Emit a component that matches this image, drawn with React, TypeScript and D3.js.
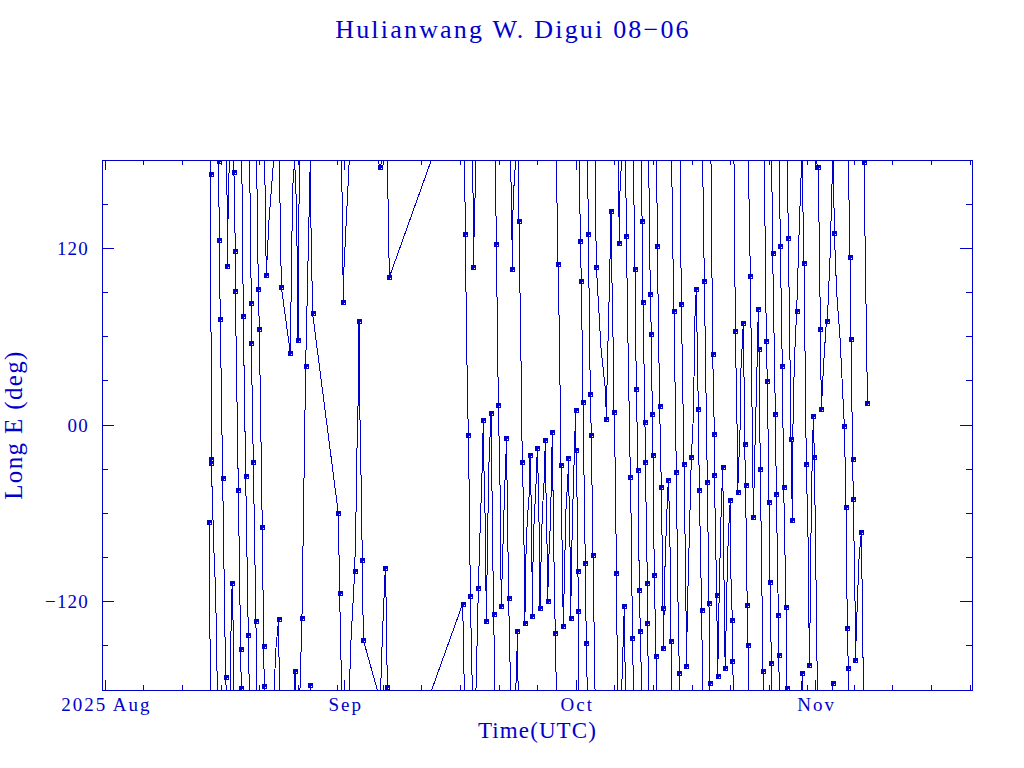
import React from "react";
import * as d3 from "d3";

const TITLE = "Hulianwang W. Digui 08\u221206";
const X_TITLE = "Time(UTC)";
const Y_TITLE = "Long E (deg)";
const COLOR = "#0000cc";

// days since 2025-08-01
const monthDays = [0, 31, 61, 92];
const monthLabels = ["2025 Aug", "Sep", "Oct", "Nov"];
const minorDays = [5, 10, 15, 20, 25, 30, 36, 41, 46, 51, 56, 66, 71, 76, 81, 86, 91, 97, 102, 107, 112];
const yMajor = [-120, 0, 120];
const yLabels = ["\u2212120", "00", "120"];
const yMinor = [-150, -90, -60, -30, 30, 60, 90, 150];

// Each track: [day, longitude, isSample]. Longitude ±180 marks the wrap at the plot edge.
type P = number[];
const tracksEarly: P[][] = [
  [[13.46,-65.9,1],[13.59,-180]],
  [[13.55,180],[13.63,170.2,1],[13.72,-23.3,1],[13.72,-25.9,1],[14.06,-85.6],[14.28,-113.7],[14.5,-180]],
  [[14.67,180],[14.67,179,1],[14.75,125.9,1],[14.88,72,1],[15.19,-35.9,1],[15.57,-171.3,1],[15.66,-180]],
  [[15.7,180],[15.79,139.3],[15.79,108.3,1],[15.88,139.3],[16.05,180]],
  [[16.14,-180],[16.35,-116],[16.44,-107.6,1],[16.57,-144],[16.61,-180]],
  [[16.65,180],[16.65,172,1],[16.83,117.9,1],[16.83,91,1],[17.22,-43.9,1],[17.52,-152,1],[17.6,-178.8,1],[17.65,-180]],
  [[17.6,180],[17.73,158],[17.86,73.7,1],[18.17,-34.5,1],[18.51,-142.5,1],[18.64,-180]],
  [[18.68,180],[18.9,83,1],[18.9,55.9,1],[19.16,-24.9,1],[19.5,-133.1,1],[19.59,-180]],
  [[19.59,180],[19.81,92.6,1],[19.94,65.5,1],[20.32,-69.4,1],[20.5,-150.2,1],[20.58,-177.6,1],[20.63,-180]],
  [[20.63,180],[20.84,102,1],[21.19,139.3],[21.79,180]],
  [[21.84,-180],[22.1,-151.1],[22.44,-131.7,1],[22.53,-180]],
  [[22.53,180],[22.79,93.8,1],[23.95,49.1,1],[24.25,160.3],[24.51,180]],
  [[24.47,-180],[24.56,-167.3,1],[24.58,-180]],
  [[24.51,180],[24.77,146.3],[24.95,58,1],[25.07,146.3],[25.16,180]],
  [[25.2,-180],[25.46,-131.2,1],[25.94,40.2,1],[26.54,180]],
  [[26.54,-180],[26.54,-176.4,1],[26.59,-180]],
  [[26.54,180],[26.54,160.3],[26.84,75.8,1],[30.17,-60,1],[30.34,-114.1,1],[30.6,-180]],
  [[30.6,180],[30.82,83.7,1],[30.9,106.5],[31.34,153.3],[31.59,180]],
  [[31.59,-180],[31.81,-146.5],[32.29,-99.4,1],[32.46,-59.8],[32.63,-3.6],[32.8,26.8],[32.85,70.9,1],[32.89,26.8],[33.06,-17.7],[33.28,-91.7,1],[33.41,-146,1],[35.22,-180]],
  [[35.26,180],[35.57,175,1],[35.83,180]],
  [[35.65,-180],[35.87,-144.1],[36.26,-97,1],[36.34,-113.7],[36.52,-178.3,1],[36.56,-180]],
  [[36.52,180],[36.6,155.6],[36.78,100.4,1],[42.22,180]],
  [[42.26,-180],[46.28,-121.4,1],[46.49,-180]],
];
const tracksMiddle: P[][] = [
  [[46.53,180],[46.62,129.6,1],[46.79,55],[47.01,-6.9,1],[47.14,-50.4],[47.27,-116.3,1],[47.53,-180]],
  [[47.57,180],[47.66,136.9],[47.66,107.6,1],[47.79,136.9],[48,180]],
  [[48,-180],[48.31,-110.9,1],[48.52,-73.9],[48.82,-27],[48.95,3.4,1],[49,-22.3],[49.21,-68],[49.34,-133.1,1],[49.51,-73.9],[49.69,-24.7],[49.95,8.3,1],[50.03,-22.3],[50.16,-83.2],[50.29,-128.4,1],[50.46,-180]],
  [[50.51,180],[50.64,122.9,1],[50.9,13.5,1],[51.11,-38.7],[51.28,-123,1],[51.41,-97.3],[51.67,-50.4],[51.89,-20],[51.93,-8.5,1],[52.06,-50.4],[52.23,-117.7,1],[52.49,-180]],
  [[52.49,180],[52.67,125.2],[52.67,106,1],[52.71,125.2],[52.84,155.6],[53.14,180]],
  [[53.14,-180],[53.27,-167.5],[53.36,-139.9,1],[53.4,-167.5],[53.49,-180]],
  [[53.48,180],[53.57,138.3,1],[53.83,45.6],[54,-25.4,1],[54.13,-48.1],[54.3,-109],[54.33,-134.8,1],[54.48,-87.9],[54.65,-64.5],[54.91,-45.8],[55,-20.2,1],[55.21,-64.5],[55.3,-129.6,1],[55.43,-76.2],[55.77,-41.1],[55.95,-15.3,1],[56.08,-41.1],[56.21,-78.5],[56.29,-124.4,1],[56.38,-102],[56.59,-59.8],[56.85,-36.4],[56.98,-10.2,1],[57.07,-45.8],[57.24,-90.3],[57.28,-119.3,1],[57.46,-87.9],[57.67,-62.2],[57.8,-27],[57.89,-4.8,1],[58.02,-62.2],[58.19,-120.7],[58.28,-141.3,1],[58.41,-180]],
  [[58.41,180],[58.62,109.5,1],[58.8,64.3],[59.01,-27,1],[59.14,-76.2],[59.31,-136.4,1],[59.53,-85.6],[59.66,-57.5],[59.92,-34],[59.96,-22.3,1],[60.18,-83.2],[60.26,-131.2,1],[60.48,-66.8],[60.7,-27],[60.91,10.4,1],[60.96,-16.7,1],[61.13,-59.8],[61.21,-98.9,1],[61.26,-126.1,1],[61.3,-180]],
  [[61.39,180],[61.52,125,1],[61.65,97.6,1],[61.86,15.8,1],[62.16,-93.8,1],[62.29,-148.3,1],[62.42,-180]],
  [[62.47,180],[62.55,129.9,1],[62.68,78.4],[62.81,20.8,1],[62.94,-6.7,1],[63.16,-88.6,1],[63.42,-180]],
  [[63.42,180],[63.59,107.6,1],[64.19,52.6],[64.8,22.2],[64.88,3.9,1],[65.06,47.9],[65.32,101.8],[65.49,145.6,1],[65.58,108.8],[65.75,59.6],[65.88,9,1],[66.09,-41.1],[66.18,-100.3,1],[66.35,-180]],
  [[66.44,180],[66.57,123.3,1],[66.66,160.3],[66.87,180]],
  [[66.87,-180],[67.22,-122.8,1],[67.35,-180]],
  [[67.39,180],[67.48,128.5,1],[67.73,43.2],[68,-35.5,1],[68.17,-85.6],[68.25,-144.8,1],[68.43,-180]],
  [[68.38,180],[68.6,106.2,1],[68.77,24.3,1],[68.99,-30.3,1],[69.16,-112.3,1],[69.29,-139.9,1],[69.46,-180]],
  [[69.46,180],[69.51,138.8,1],[69.64,83.7,1],[69.76,43.2],[69.89,2.2,1],[69.94,-25.2,1],[70.2,-107.1,1],[70.2,-134.8,1],[70.37,-180]],
  [[70.37,180],[70.58,89.1,1],[70.71,62,1],[70.84,7.2,1],[70.93,-20.2,1],[71.1,-102,1],[71.32,-157,1],[71.41,-180]],
  [[71.41,180],[71.49,121.7,1],[71.79,12.6,1],[72.01,-42.2,1],[72.23,-124.4,1],[72.27,-151.6,1],[72.48,-97.3],[72.7,-62.2],[72.92,-37.1,1],[73.05,-59.8],[73.22,-106.7],[73.26,-146.8,1],[73.35,-180]],
  [[73.35,180],[73.48,125.2],[73.65,77.2,1],[73.87,-3.6],[73.95,-31.9,1],[74.13,-109],[74.34,-168.5,1],[74.43,-180]],
  [[74.43,180],[74.6,82.3,1],[74.95,-26.8,1],[75.2,-120.7],[75.25,-163.8,1],[75.42,-118.4],[75.68,-66.8],[75.9,-21.6,1],[76.16,5.8],[76.37,73.7],[76.54,92.6,1],[76.8,10.7,1],[76.93,-43.9,1],[77.23,-125.9,1],[77.36,-180]],
];
const tracksLate: P[][] = [
  [[77.36,180],[77.58,97.8,1],[77.97,-38.7,1],[78.18,-120.7,1],[78.27,-175.3,1],[78.31,-180]],
  [[78.44,180],[78.66,48.4,1],[78.88,-6.2,1],[78.88,-33.8,1],[79.18,-115.6,1],[79.31,-170.6,1],[79.48,-120.7],[79.7,-69.2],[79.96,-28.7,1],[80.08,-78.5],[80.21,-148.8],[80.3,-165.2,1],[80.47,-116],[80.69,-73.9],[80.95,-50.7,1],[80.99,-97.3],[81.21,-132.6,1],[81.21,-160,1],[81.38,-180]],
  [[81.42,180],[81.6,63.8,1],[81.85,-10.6],[81.9,-45.3,1],[82.2,-3.6],[82.33,38.5],[82.63,69,1],[82.76,15.1],[82.8,-13,1],[82.93,-40.6,1],[83.06,-102],[83.15,-122.3,1],[83.24,-149.5,1],[83.28,-180]],
  [[83.28,180],[83.54,101.5,1],[83.84,-22.3],[83.93,-62.4,1],[84.1,-22.3],[84.36,29.2],[84.57,79.1,1],[84.66,51.9,1],[84.83,-29.8,1],[85.18,-166.8,1],[85.27,-180]],
  [[85.35,180],[85.44,134.6],[85.61,57,1],[85.74,29.6,1],[85.96,-52.3,1],[86.09,-106.9,1],[86.26,-161.7,1],[86.3,-180]],
  [[86.3,180],[86.43,117,1],[86.78,7.6,1],[86.91,-46.9,1],[87.17,-128.9,1],[87.21,-156.3,1],[87.3,-180]],
  [[87.3,180],[87.42,121.9,1],[87.68,40.2,1],[87.86,-42,1],[88.16,-123.7,1],[88.29,-178.8,1],[88.33,-180]],
  [[88.33,180],[88.46,127.1,1],[88.68,43.2],[88.81,-9.5,1],[88.98,-64.3,1],[89.02,-10.6],[89.24,43.2],[89.54,77.7,1],[89.89,136.9],[90.19,180]],
  [[90.23,180],[90.49,110.2,1],[90.79,-26.6,1],[91.05,-85.6],[91.18,-163.1,1],[91.31,-120.7],[91.44,-50.4],[91.7,5.8,1],[91.83,-21.6,1],[92,-85.6],[92.22,-180]],
  [[90.19,-180],[90.27,-168.5,1],[90.3,-180]],
  [[92.05,180],[92.3,175.1,1],[92.48,125.2],[92.61,65.5,1],[92.74,10.9,1],[93,38.5],[93.34,66.7],[93.51,70.9,1],[93.86,113.5],[94.2,180]],
  [[94.2,-180],[94.2,-175.3,1],[94.25,-180]],
  [[94.29,180],[94.42,130.6,1],[94.72,90.1],[95.15,59.6],[95.72,-0.8,1],[95.93,-55.4,1],[96.1,-137.6,1],[96.23,-165,1],[96.28,-180]],
  [[96.23,180],[96.45,114,1],[96.58,58.7,1],[96.79,-23,1],[96.88,-50.4,1],[97.1,-120.7],[97.14,-159.8,1],[97.4,-120.7],[97.62,-90.3],[97.92,-72.7,1],[98.09,-137.1],[98.18,-180]],
  [[98.22,180],[98.26,178.4,1],[98.39,129.9],[98.65,36.2],[98.7,14.7,1]],
];
const tracks = [...tracksEarly, ...tracksMiddle, ...tracksLate];

const toDate = (day: number) => new Date(Date.UTC(2025, 7, 1) + day * 864e5);

const L = 102, R = 972, T = 160, B = 690;
const x = d3.scaleUtc().domain([toDate(-0.44), toDate(112.25)]).range([L, R]);
const y = d3.scaleLinear().domain([-180, 180]).range([B, T]);
const line = d3.line<P>().x((p) => x(toDate(p[0]))).y((p) => y(p[1])).curve(d3.curveLinear);

const FONT = "'Liberation Serif', serif";

export default function App() {
  const samples = tracks.flat().filter((p) => p[2] === 1);
  return (
    <svg width={1024} height={768} viewBox="0 0 1024 768"
      style={{ position: "absolute", left: 0, top: 0, background: "#fff" }}>
      <defs>
        <clipPath id="plot"><rect x={L} y={T} width={R - L} height={B - T} /></clipPath>
      </defs>
      <text x={513} y={38} textAnchor="middle" fill={COLOR} fontFamily={FONT} fontSize={26} letterSpacing={2.2}>{TITLE}</text>

      <g clipPath="url(#plot)" shapeRendering="crispEdges">
        {tracks.map((t, i) => (
          <path key={i} d={line(t) ?? ""} fill="none" stroke={COLOR} strokeWidth={1} />
        ))}
        {samples.map((p, i) => {
          const cx = Math.round(x(toDate(p[0])));
          const cy = Math.round(y(p[1]));
          return (
            <g key={i}>
              <rect x={cx - 2} y={cy - 2} width={5} height={5} fill={COLOR} />
              <rect x={cx + 1} y={cy + 1} width={1} height={1} fill="#fff" />
            </g>
          );
        })}
      </g>

      <g stroke={COLOR} strokeWidth={1} shapeRendering="crispEdges">
        <rect x={L} y={T} width={R - L} height={B - T} fill="none" />
        {monthDays.map((d) => {
          const px = x(toDate(d));
          return (
            <g key={d}>
              <line x1={px} x2={px} y1={T} y2={T + 10} />
              <line x1={px} x2={px} y1={B} y2={B - 10} />
            </g>
          );
        })}
        {minorDays.map((d) => {
          const px = x(toDate(d));
          return (
            <g key={d}>
              <line x1={px} x2={px} y1={T} y2={T + 5} />
              <line x1={px} x2={px} y1={B} y2={B - 5} />
            </g>
          );
        })}
        {yMajor.map((v) => (
          <g key={v}>
            <line x1={L} x2={L + 12} y1={y(v)} y2={y(v)} />
            <line x1={R} x2={R - 12} y1={y(v)} y2={y(v)} />
          </g>
        ))}
        {yMinor.map((v) => (
          <g key={v}>
            <line x1={L} x2={L + 6} y1={y(v)} y2={y(v)} />
            <line x1={R} x2={R - 6} y1={y(v)} y2={y(v)} />
          </g>
        ))}
      </g>

      <g fill={COLOR} fontFamily={FONT} fontSize={19} letterSpacing={2}>
        {monthDays.map((d, i) => (
          <text key={d} x={x(toDate(d)) + 1} y={711} textAnchor="middle">{monthLabels[i]}</text>
        ))}
      </g>
      <g fill={COLOR} fontFamily={FONT} fontSize={19} letterSpacing={1.2}>
        {yMajor.map((v, i) => (
          <text key={v} x={89} y={y(v) + 6.5} textAnchor="end">{yLabels[i]}</text>
        ))}
      </g>
      <text x={537.5} y={738} textAnchor="middle" fill={COLOR} fontFamily={FONT} fontSize={23} letterSpacing={1.1}>{X_TITLE}</text>
      <text transform="translate(22,425) rotate(-90)" textAnchor="middle" fill={COLOR} fontFamily={FONT} fontSize={25} letterSpacing={1.35}>{Y_TITLE}</text>
    </svg>
  );
}
